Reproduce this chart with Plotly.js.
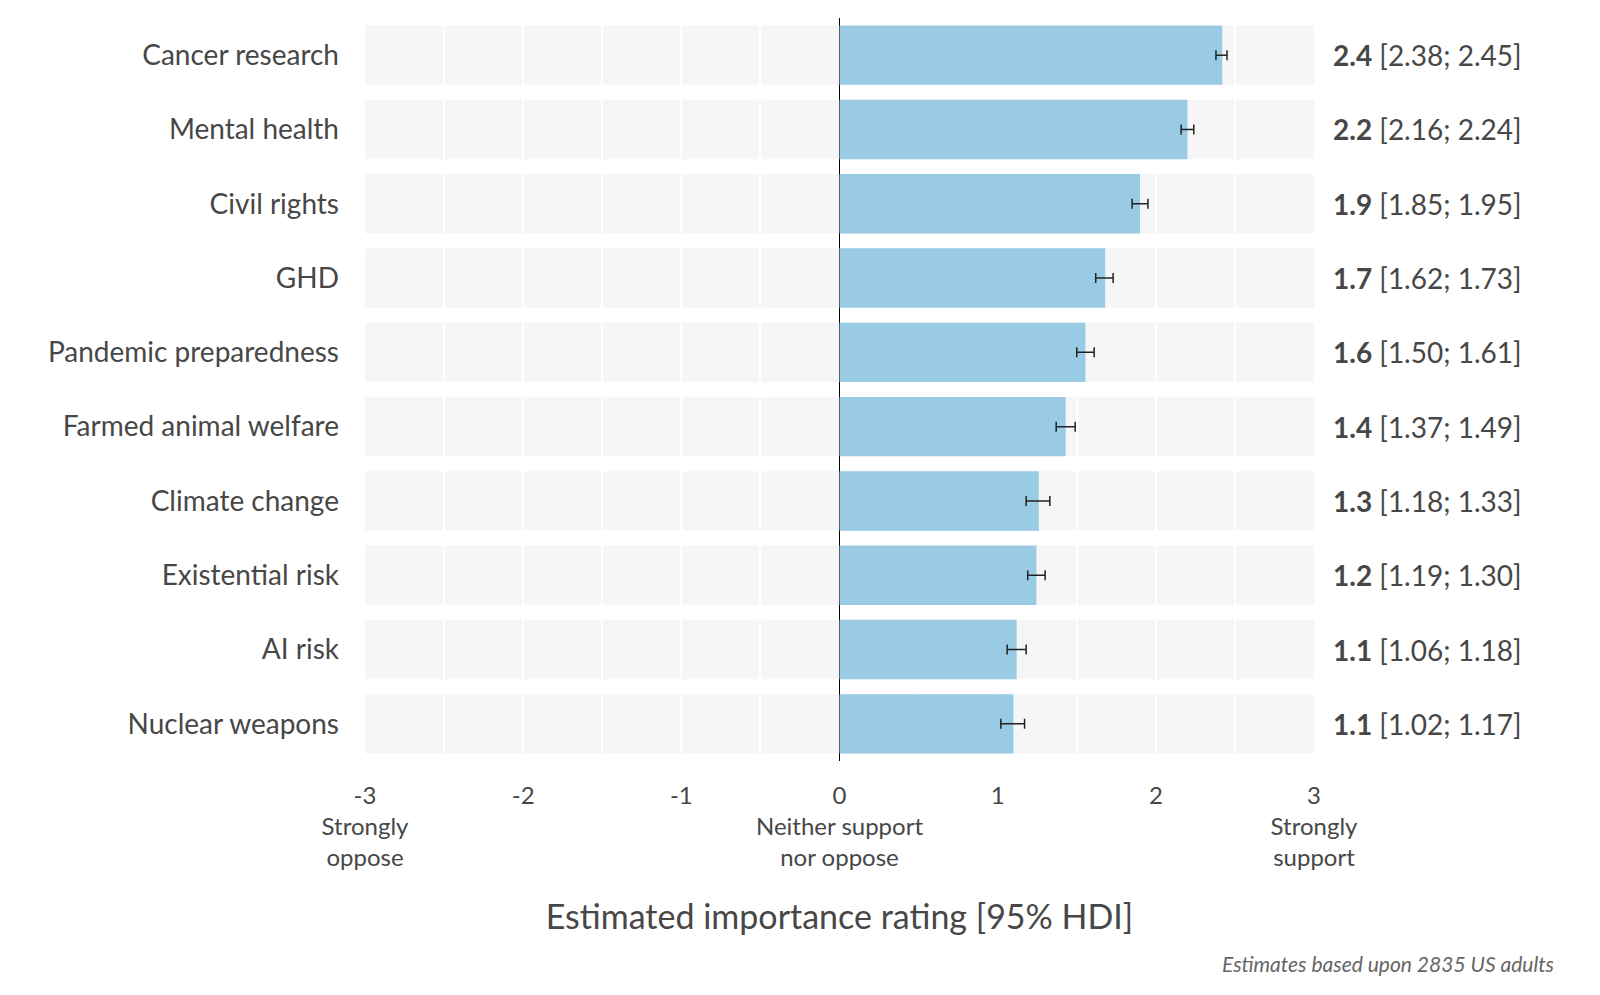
<!DOCTYPE html>
<html>
<head>
<meta charset="utf-8">
<script src="https://cdn.plot.ly/plotly-3.0.1.min.js"></script>
<style>html,body{margin:0;padding:0;background:#fff;}#chart{width:1600px;height:995px;}</style>
</head>
<body>
<div id="chart"></div>
<script>
const categories = ["Cancer research","Mental health","Civil rights","GHD","Pandemic preparedness","Farmed animal welfare","Climate change","Existential risk","AI risk","Nuclear weapons"];
const estimates = [2.42, 2.20, 1.90, 1.68, 1.555, 1.43, 1.26, 1.245, 1.12, 1.10];
const ciLow =  [2.38, 2.16, 1.85, 1.62, 1.50, 1.37, 1.18, 1.19, 1.06, 1.02];
const ciHigh = [2.45, 2.24, 1.95, 1.73, 1.61, 1.49, 1.33, 1.30, 1.18, 1.17];
const scaleMin = -3, scaleMax = 3;
const tickValues = [-3,-2,-1,0,1,2,3];
const tickLabels = ["-3<br>Strongly<br>oppose","-2","-1","0<br>Neither support<br>nor oppose","1","2","3<br>Strongly<br>support"];
const axisTitle = "Estimated importance rating [95% HDI]";
const caption = "Estimates based upon 2835 US adults";

const FONT = "Lato, 'Noto Sans', sans-serif";
const TXT = "#474747";

const trace = {
  type: 'bar', orientation: 'h',
  y: categories, x: estimates,
  width: 0.8,
  marker: {color: '#99cce4', line: {width: 0}},
  error_x: {
    type: 'data', symmetric: false,
    array: estimates.map((v,i) => ciHigh[i] - v),
    arrayminus: estimates.map((v,i) => v - ciLow[i]),
    color: '#222222', thickness: 1.5, width: 5
  },
  hoverinfo: 'skip'
};

const shapes = categories.map(c => ({
  type: 'rect', layer: 'below', xref: 'x', yref: 'y',
  x0: scaleMin, x1: scaleMax,
  y0: categories.indexOf(c) - 0.4, y1: categories.indexOf(c) + 0.4,
  fillcolor: '#f6f6f6', line: {width: 0}
}));

const annotations = categories.map((c,i) => ({
  xref: 'paper', yref: 'y', x: 1, y: c, xanchor: 'left', xshift: 17,
  text: '<b>' + (Math.round(estimates[i]*10)/10).toFixed(1) + '</b> [' + ciLow[i].toFixed(2) + '; ' + ciHigh[i].toFixed(2) + ']',
  showarrow: false, font: {family: FONT, size: 28, color: TXT}
}));
annotations.push({
  xref: 'paper', yref: 'paper', x: 1.255, y: -0.273, xanchor: 'right', yanchor: 'middle',
  text: '<i>' + caption + '</i>', showarrow: false,
  font: {family: FONT, size: 21, color: '#666666'}
});

const layout = {
  width: 1600, height: 995,
  margin: {l: 365, r: 286, t: 18, b: 234},
  paper_bgcolor: '#ffffff', plot_bgcolor: '#ffffff',
  showlegend: false,
  bargap: 0.2,
  font: {family: FONT, color: TXT},
  xaxis: {
    range: [scaleMin, scaleMax],
    tickvals: tickValues, ticktext: tickLabels,
    showgrid: true, gridcolor: '#ffffff', gridwidth: 2,
    minor: {dtick: 0.5, showgrid: true, gridcolor: '#ffffff', gridwidth: 2},
    zeroline: true, zerolinecolor: '#000000', zerolinewidth: 1.2,
    showline: false, ticks: '',
    ticklabelstandoff: 18,
    tickfont: {family: FONT, size: 24, color: TXT},
    title: {text: axisTitle, standoff: 34, font: {family: FONT, size: 34, color: TXT}},
    automargin: false, fixedrange: true
  },
  yaxis: {
    type: 'category',
    categoryorder: 'array', categoryarray: categories,
    range: [categories.length - 0.5, -0.5],
    showgrid: false, zeroline: false, showline: false, ticks: '',
    ticklabelstandoff: 25,
    tickfont: {family: FONT, size: 28, color: TXT},
    automargin: false, fixedrange: true
  },
  shapes: shapes,
  annotations: annotations
};

Plotly.newPlot('chart', [trace], layout, {displayModeBar: false, staticPlot: true});
</script>
</body>
</html>
